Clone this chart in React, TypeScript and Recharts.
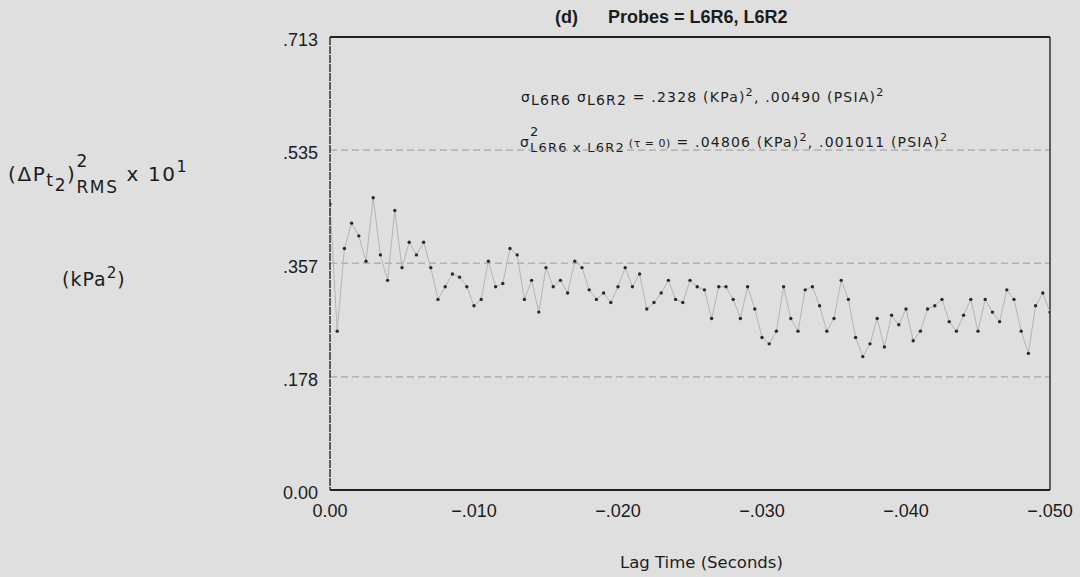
import { ComposedChart, Line, ReferenceLine, XAxis, YAxis } from "recharts"

// lag step between samples (seconds)
const LAG_STEP = -0.0005

// (ΔP)² RMS x 10, one value per lag step
const rmsValues = [
  0.45, 0.25, 0.38, 0.42, 0.4, 0.36, 0.46, 0.37, 0.33, 0.44,
  0.35, 0.39, 0.37, 0.39, 0.35, 0.3, 0.32, 0.34, 0.335, 0.32,
  0.29, 0.3, 0.36, 0.32, 0.325, 0.38, 0.37, 0.3, 0.33, 0.28,
  0.35, 0.32, 0.33, 0.31, 0.36, 0.35, 0.315, 0.3, 0.31, 0.295,
  0.32, 0.35, 0.32, 0.34, 0.285, 0.295, 0.31, 0.33, 0.3, 0.295,
  0.33, 0.32, 0.315, 0.27, 0.32, 0.32, 0.3, 0.27, 0.32, 0.285,
  0.24, 0.23, 0.25, 0.32, 0.27, 0.25, 0.315, 0.32, 0.29, 0.25,
  0.27, 0.33, 0.3, 0.24, 0.21, 0.23, 0.27, 0.225, 0.275, 0.26,
  0.285, 0.235, 0.25, 0.285, 0.29, 0.3, 0.265, 0.25, 0.275, 0.3,
  0.25, 0.3, 0.28, 0.265, 0.315, 0.3, 0.25, 0.215, 0.29, 0.31, 0.28,
]

const xTicks = [0, -0.01, -0.02, -0.03, -0.04, -0.05]
const yTicks = [0, 0.178, 0.357, 0.535, 0.713]
const gridLevels = [0.178, 0.357, 0.535]

const data = rmsValues.map((v, i) => ({ lag: i * LAG_STEP, rms: v }))

const font = "'Liberation Sans', Arial, sans-serif"
const wide = "'DejaVu Sans', sans-serif"
const ink = "#1c1c1c"

const fmtX = (v: number) => (v === 0 ? "0.00" : "\u2212" + Math.abs(v).toFixed(3).slice(1))
const fmtY = (v: number) => (v === 0 ? "0.00" : v.toFixed(3).slice(1))

const sup = { fontSize: "0.8em", verticalAlign: "0.55em" }

// superscript sitting on top of a subscript
function Stack({ top, bottom, size, raise, gap }: { top: string; bottom: string; size: number; raise: number; gap: number }) {
  return (
    <span
      style={{
        display: "inline-flex",
        flexDirection: "column",
        verticalAlign: raise,
        lineHeight: gap + "px",
        fontSize: size,
      }}
    >
      <span>{top}</span>
      <span>{bottom}</span>
    </span>
  )
}

export default function App() {
  return (
    <div
      style={{
        position: "absolute",
        left: 0,
        top: 0,
        width: 1080,
        height: 577,
        background: "#dfdfdf",
        fontFamily: wide,
        color: ink,
        overflow: "hidden",
      }}
    >
      <div style={{ position: "absolute", left: 555, top: 7, fontSize: 18, fontWeight: 600, whiteSpace: "pre", fontFamily: font }}>
        (d)      Probes = L6R6, L6R2
      </div>

      <div style={{ position: "absolute", left: 521, top: 86, fontSize: 14, letterSpacing: 1.2, whiteSpace: "pre" }}>
        <span>σ</span><span style={{ verticalAlign: -3 }}>L6R6</span> <span>σ</span>
        <span style={{ verticalAlign: -3 }}>L6R2</span> = .2328 (KPa)<span style={sup}>2</span>, .00490 (PSIA)
        <span style={sup}>2</span>
      </div>
      <div style={{ position: "absolute", left: 520, top: 124, fontSize: 14, letterSpacing: 1.2, whiteSpace: "pre" }}>
        <span>σ</span>
        <Stack top="2" bottom="L6R6 x L6R2" size={13} raise={11} gap={16} />
        <span style={{ fontSize: 11, letterSpacing: 0.5 }}> (τ = 0)</span> = .04806 (KPa)<span style={sup}>2</span>, .001011 (PSIA)
        <span style={sup}>2</span>
      </div>

      <div style={{ position: "absolute", left: 8, top: 148, fontSize: 20, letterSpacing: 1.6, whiteSpace: "pre" }}>
        (ΔP<span style={{ fontSize: "0.85em", verticalAlign: "-0.3em" }}>t<span style={{ verticalAlign: "-0.3em" }}>2</span></span>)
        <Stack top="2" bottom="RMS" size={17} raise={14} gap={26} /> x 10<span style={sup}>1</span>
      </div>
      <div style={{ position: "absolute", left: 62, top: 264, fontSize: 19, letterSpacing: 1, whiteSpace: "pre" }}>
        (kPa<span style={sup}>2</span>)
      </div>

      <div style={{ position: "absolute", left: 620, top: 553, fontSize: 16.5, whiteSpace: "pre" }}>
        Lag Time (Seconds)
      </div>

      <div style={{ position: "absolute", left: 0, top: 0 }}>
        <ComposedChart width={1080} height={577} data={data} margin={{ top: 37, right: 30, bottom: 57, left: 0 }}>
          <XAxis
            type="number"
            dataKey="lag"
            domain={[-0.05, 0]}
            reversed
            ticks={xTicks}
            tickFormatter={fmtX}
            tickLine={false}
            tickSize={0}
            tickMargin={14}
            height={30}
            axisLine={{ stroke: "#222", strokeWidth: 2 }}
            tick={{ fill: ink, fontSize: 18, fontFamily: font }}
            allowDataOverflow
          />
          <YAxis
            type="number"
            domain={[0, 0.713]}
            ticks={yTicks}
            tickFormatter={fmtY}
            width={330}
            tickLine={false}
            tickSize={0}
            tickMargin={12}
            axisLine={{ stroke: "#333", strokeWidth: 1.5, strokeDasharray: "8 1" }}
            tick={{ fill: ink, fontSize: 18, fontFamily: font, dy: 3 }}
            allowDataOverflow
          />
          {gridLevels.map((g) => (
            <ReferenceLine key={g} y={g} stroke="#9a9a9a" strokeDasharray="7 4" strokeWidth={1} />
          ))}
          <ReferenceLine y={0.713} stroke="#222" strokeWidth={2} />
          <ReferenceLine x={-0.05} stroke="#333" strokeWidth={1.5} />
          <Line
            type="linear"
            dataKey="rms"
            stroke="#b4b4b4"
            strokeWidth={1}
            dot={{ r: 1.7, fill: "#2a2a2a", stroke: "none" }}
            activeDot={false}
            isAnimationActive={false}
          />
        </ComposedChart>
      </div>
    </div>
  )
}
